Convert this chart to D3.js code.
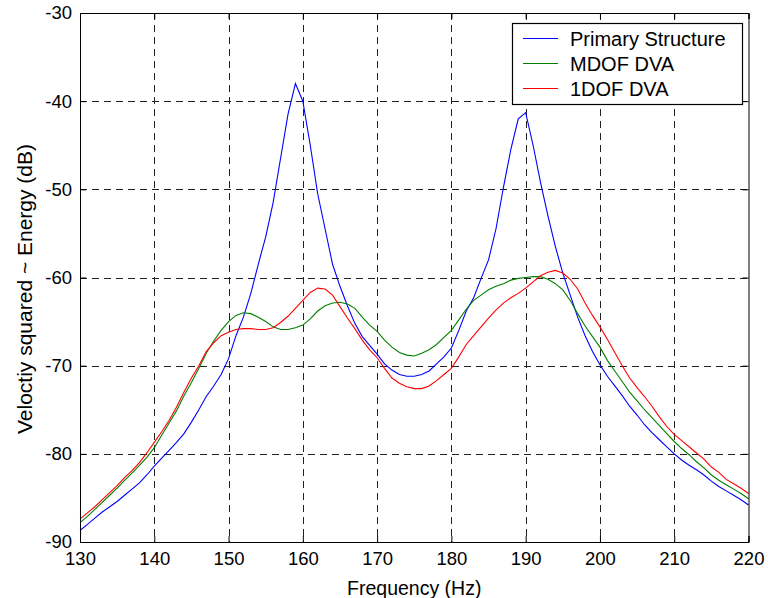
<!DOCTYPE html>
<html>
<head>
<meta charset="utf-8">
<script src="https://cdn.jsdelivr.net/npm/d3@7"></script>
<style>
  body { margin: 0; background: #fff; }
  svg { font-family: "Liberation Sans", Arial, sans-serif; }
</style>
</head>
<body>
<svg id="chart" width="768" height="598"></svg>
<script>
// frequency grid, 1 Hz steps
const freq = d3.range(130, 221, 1);

const primary = [
  -88.7, -88.0, -87.3, -86.6, -86.0, -85.4, -84.7, -84.0, -83.3, -82.4,
  -81.4, -80.5, -79.6, -78.7, -77.7, -76.4, -75.0, -73.5, -72.3, -71.0,
  -69.2, -66.6, -64.5, -61.8, -58.5, -55.4, -51.5, -46.5, -41.5, -38.0,
  -40.0, -45.0, -50.5, -54.5, -58.5, -61.0, -63.2, -65.2, -66.7, -67.7,
  -68.7, -69.8, -70.5, -71.0, -71.2, -71.2, -71.0, -70.6, -69.8, -69.0,
  -68.0, -66.0, -63.8, -62.3, -60.1, -58.0, -54.5, -49.8, -45.5, -42.0,
  -41.3, -45.0, -49.2, -53.0, -56.5, -59.5, -62.0, -64.5, -66.6, -68.4,
  -69.9, -71.2, -72.3, -73.4, -74.6, -75.6, -76.7, -77.6, -78.4, -79.2,
  -80.0, -80.7, -81.3, -81.8, -82.4, -83.1, -83.7, -84.2, -84.7, -85.2,
  -85.8
];

const mdof = [
  -87.8, -87.1, -86.3, -85.5, -84.7, -83.9, -83.0, -82.2, -81.3, -80.4,
  -79.3, -77.9, -76.5, -75.1, -73.4, -71.9, -70.3, -68.6, -67.2, -66.0,
  -65.0, -64.3, -64.0, -64.1, -64.5, -65.0, -65.6, -65.9, -65.9, -65.7,
  -65.4, -64.7, -63.8, -63.2, -62.9, -62.8, -63.0, -63.5, -64.5, -65.4,
  -66.1, -67.1, -67.9, -68.5, -68.8, -68.9, -68.6, -68.2, -67.6, -66.8,
  -66.0, -64.8, -63.6, -62.6, -62.0, -61.4, -61.0, -60.7, -60.3, -60.1,
  -60.0, -59.9, -59.9, -60.2, -60.7, -61.4, -62.6, -64.1, -65.5, -66.7,
  -67.9, -69.4, -70.6, -71.8, -73.0, -74.0, -75.0, -75.9, -76.8, -77.7,
  -78.6, -79.4, -80.1, -80.9, -81.6, -82.4, -83.0, -83.5, -84.0, -84.5,
  -85.1
];

const onedof = [
  -87.4, -86.7, -86.0, -85.2, -84.4, -83.6, -82.7, -81.9, -81.0, -79.9,
  -78.7, -77.5, -76.2, -74.7, -73.0, -71.4, -70.0, -68.4, -67.4, -66.6,
  -66.2, -65.9, -65.8, -65.8, -65.9, -65.9, -65.7, -65.1, -64.4, -63.5,
  -62.6, -61.7, -61.2, -61.3, -62.0, -63.3, -64.6, -65.8, -67.1, -68.2,
  -69.1, -70.3, -71.4, -72.0, -72.4, -72.6, -72.6, -72.3, -71.7, -71.0,
  -70.3, -69.0, -67.6, -66.6, -65.6, -64.6, -63.7, -62.9, -62.3, -61.8,
  -61.2, -60.5, -59.8, -59.4, -59.2, -59.5, -60.2, -61.3, -62.9, -64.3,
  -65.6, -67.0, -68.5, -70.0, -71.4, -72.5, -73.5, -74.6, -75.8, -76.9,
  -77.8, -78.5, -79.2, -79.9, -80.6, -81.5, -82.1, -82.9, -83.4, -83.9,
  -84.5
];

const seriesNames = ['Primary Structure', 'MDOF DVA', '1DOF DVA'];
const seriesColors = ['#0000ff', '#008000', '#ff0000'];
const xTicks = d3.range(130, 221, 10);
const yTicks = d3.range(-90, -29, 10);

const svg = d3.select('#chart');
const margin = { top: 13, right: 19.5, bottom: 56, left: 80 };
const width = +svg.attr('width') - margin.left - margin.right;
const height = +svg.attr('height') - margin.top - margin.bottom;
const g = svg.append('g').attr('transform', `translate(${margin.left},${margin.top})`);

const x = d3.scaleLinear().domain([130, 220]).range([0, width]);
const y = d3.scaleLinear().domain([-90, -30]).range([height, 0]);

// grid
const grid = g.append('g').attr('stroke', '#222').attr('stroke-width', 1).attr('stroke-dasharray', '7,5');
grid.selectAll('.vg').data(xTicks.slice(1, -1)).enter().append('line')
  .attr('x1', d => Math.round(x(d)) + 0.5).attr('x2', d => Math.round(x(d)) + 0.5)
  .attr('y1', 0).attr('y2', height);
grid.selectAll('.hg').data(yTicks.slice(1, -1)).enter().append('line')
  .attr('y1', d => Math.round(y(d)) + 0.5).attr('y2', d => Math.round(y(d)) + 0.5)
  .attr('x1', 0).attr('x2', width);

// curves
const line = d3.line()
  .x((d, i) => x(freq[i]))
  .y(d => y(d));

[primary, mdof, onedof].forEach((s, k) => {
  g.append('path')
    .datum(s)
    .attr('fill', 'none')
    .attr('stroke', seriesColors[k])
    .attr('stroke-width', 1.1)
    .attr('d', line);
});

// axes (plain hyphen for negatives, like the original)
const fmt = d => String(d);
const xAxis = g.append('g').attr('transform', `translate(0,${height})`)
  .call(d3.axisBottom(x).tickValues(xTicks).tickSize(-6).tickPadding(10).tickFormat(fmt));
const yAxis = g.append('g')
  .call(d3.axisLeft(y).tickValues(yTicks).tickSize(-6).tickPadding(8).tickFormat(fmt));
g.append('g')
  .call(d3.axisTop(x).tickValues(xTicks).tickSize(-6).tickFormat(''));
g.append('g').attr('transform', `translate(${width},0)`)
  .call(d3.axisRight(y).tickValues(yTicks).tickSize(-6).tickFormat(''));

g.selectAll('.domain').attr('stroke', '#000');
g.selectAll('.tick line').attr('stroke', '#000');
[xAxis, yAxis].forEach(a => a.selectAll('text')
  .attr('fill', '#000').style('font-size', '18.5px')
  .style('font-family', '"Liberation Sans", Arial, sans-serif'));

// axis labels
svg.append('text')
  .attr('x', margin.left + width / 2)
  .attr('y', 595)
  .attr('text-anchor', 'middle')
  .style('font-size', '19.5px')
  .text('Frequency (Hz)');

svg.append('text')
  .attr('transform', `translate(32,289) rotate(-90)`)
  .attr('text-anchor', 'middle')
  .style('font-size', '21px')
  .text('Veloctiy squared ~ Energy (dB)');

// legend
const lg = svg.append('g').attr('transform', 'translate(512,23)');
lg.append('rect')
  .attr('x', 0.5).attr('y', 0.5)
  .attr('width', 230).attr('height', 81)
  .attr('fill', '#fff').attr('stroke', '#000').attr('stroke-width', 1.2);
seriesNames.forEach((name, i) => {
  const yy = 15.5 + i * 25;
  lg.append('line')
    .attr('x1', 11).attr('x2', 46)
    .attr('y1', yy).attr('y2', yy)
    .attr('stroke', seriesColors[i]).attr('stroke-width', 1.1);
  lg.append('text')
    .attr('x', 58).attr('y', yy)
    .attr('dy', '0.36em')
    .style('font-size', '20px')
    .text(name);
});
</script>
</body>
</html>
